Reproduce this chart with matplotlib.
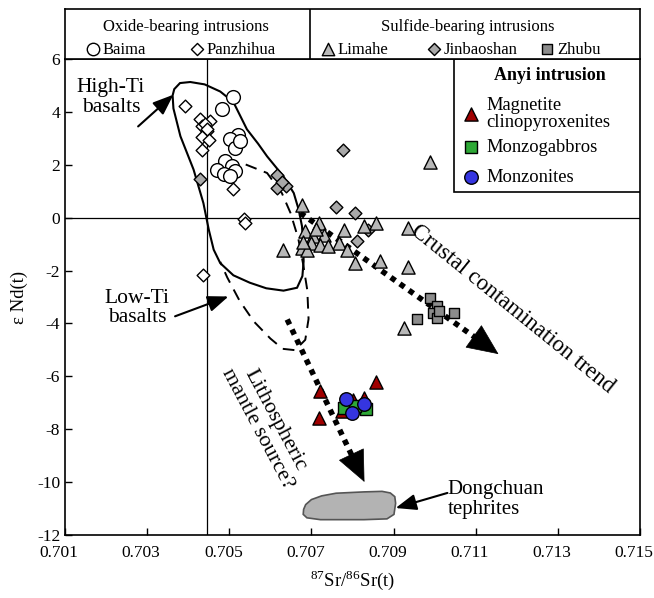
import matplotlib
matplotlib.use('Agg')
import matplotlib.pyplot as plt
from matplotlib.patches import Polygon, Rectangle
from matplotlib.transforms import ScaledTranslation

plt.rcParams['font.family'] = ['Liberation Serif', 'DejaVu Serif']
plt.rcParams['mathtext.fontset'] = 'custom'
plt.rcParams['mathtext.rm'] = 'Liberation Serif'
plt.rcParams['axes.unicode_minus'] = False

# ---- data: (87Sr/86Sr)t, eNd(t) ----
baima_sr = [0.70510, 0.70482, 0.70520, 0.70501, 0.70515, 0.70490, 0.70507,
            0.70470, 0.70488, 0.70515, 0.70502, 0.70525]
baima_nd = [4.57, 4.11, 3.13, 2.98, 2.63, 2.15, 1.97, 1.82, 1.65, 1.75, 1.56, 2.90]

panzhihua_sr = [0.70391, 0.70429, 0.70452, 0.70433, 0.70446, 0.70433, 0.70450,
                0.70433, 0.70510, 0.70535, 0.70539, 0.70436, 0.70440, 0.70445]
panzhihua_nd = [4.24, 3.73, 3.65, 3.45, 3.26, 3.05, 2.95, 2.57, 1.08, -0.05,
                -0.20, -2.15, 3.56, 3.34]

limahe_sr = [0.70677, 0.70718, 0.70685, 0.70730, 0.70705, 0.70779, 0.70856,
             0.70828, 0.70935, 0.70632, 0.70677, 0.70698, 0.70722, 0.70767,
             0.70787, 0.70807, 0.70868, 0.70935, 0.70925, 0.70988, 0.70690,
             0.70712, 0.70740, 0.70680]
limahe_nd = [0.49, -0.20, -0.52, -0.64, -0.71, -0.45, -0.20, -0.32, -0.39,
             -1.21, -1.15, -0.95, -1.02, -0.95, -1.21, -1.71, -1.65, -1.86,
             -4.17, 2.11, -1.23, -0.44, -1.08, -0.93]

jinbaoshan_sr = [0.70429, 0.70615, 0.70639, 0.70616, 0.70628, 0.70777, 0.70759,
                 0.70807, 0.70837, 0.70810]
jinbaoshan_nd = [1.47, 1.60, 1.18, 1.12, 1.33, 2.57, 0.39, 0.18, -0.48, -0.89]

zhubu_sr = [0.70989, 0.71005, 0.70997, 0.71006, 0.71047, 0.70956, 0.71010]
zhubu_nd = [-3.04, -3.35, -3.61, -3.79, -3.61, -3.85, -3.54]

mag_cpx_sr = [0.70722, 0.70718, 0.70856, 0.70828, 0.70800, 0.70775]
mag_cpx_nd = [-6.56, -7.57, -6.22, -6.81, -6.88, -7.32]

monzogabbro_sr = [0.70779, 0.70832, 0.70807]
monzogabbro_nd = [-7.19, -7.25, -7.13]

monzonite_sr = [0.70783, 0.70829, 0.70799]
monzonite_nd = [-6.85, -7.06, -7.38]

# field outlines
high_ti_sr = [0.70366, 0.70380, 0.70405, 0.70440, 0.70478, 0.70510, 0.70543,
              0.70570, 0.70592, 0.70632, 0.70657, 0.70669, 0.70677, 0.70680,
              0.70681, 0.70678, 0.70665, 0.70632, 0.70590, 0.70550, 0.70510,
              0.70478, 0.70462, 0.70450, 0.70437, 0.70413, 0.70381, 0.70364,
              0.70362]
high_ti_nd = [4.86, 5.09, 5.13, 5.04, 4.77, 4.37, 3.34, 2.80, 2.32, 1.56, 0.93,
              0.30, -0.32, -0.98, -1.65, -2.21, -2.65, -2.76, -2.67, -2.46,
              -2.18, -1.72, -1.21, -0.45, 0.55, 1.82, 3.08, 4.13, 4.62]

low_ti_sr = [0.70540, 0.70592, 0.70628, 0.70649, 0.70668, 0.70680, 0.70690,
             0.70693, 0.70685, 0.70660, 0.70630, 0.70600, 0.70560, 0.70525,
             0.70495, 0.70478]
low_ti_nd = [2.01, 1.69, 0.93, 0.18, -0.79, -1.77, -2.75, -3.83, -4.62, -5.01,
             -4.96, -4.57, -3.93, -3.14, -2.26, -1.67]

dongchuan_sr = [0.70681, 0.70686, 0.70700, 0.70725, 0.70760, 0.70828, 0.70872,
                0.70892, 0.70903, 0.70905, 0.70901, 0.70884, 0.70828, 0.70722,
                0.70689, 0.70680]
dongchuan_nd = [-11.03, -10.85, -10.66, -10.52, -10.42, -10.37, -10.35, -10.41,
                -10.55, -10.80, -11.22, -11.39, -11.42, -11.42, -11.35, -11.22]

x_ticks = [0.701, 0.703, 0.705, 0.707, 0.709, 0.711, 0.713, 0.715]
y_ticks = [6, 4, 2, 0, -2, -4, -6, -8, -10, -12]

W, H = 654, 598
AX_TOP, AX_BOT, AX_L, AX_R = 59, 535, 65, 640
fig = plt.figure(figsize=(W / 100, H / 100), dpi=100)
ax = fig.add_axes([AX_L / W, 1 - AX_BOT / H, (AX_R - AX_L) / W, (AX_BOT - AX_TOP) / H])
ax.set_xlim(0.701, 0.715)
ax.set_ylim(-12, 6)
ax.set_xticks(x_ticks)
ax.set_xticklabels(['%.3f' % v for v in x_ticks])
ax.set_yticks(y_ticks)
ax.tick_params(direction='in', length=5, width=1, labelsize=12.5)
ax.tick_params(axis='x', pad=7)
shift = ScaledTranslation(-6 / 100, 0, fig.dpi_scale_trans)
for lab in ax.get_xticklabels():
    lab.set_transform(lab.get_transform() + shift)
for sp in ax.spines.values():
    sp.set_linewidth(1.2)

ax.axhline(0, color='k', lw=0.9, zorder=1)
ax.axvline(0.70446, color='k', lw=0.9, zorder=1)

ax.add_patch(Polygon(list(zip(high_ti_sr, high_ti_nd)), closed=True, fill=False,
                     ec='k', lw=1.5, zorder=2))
ax.plot(low_ti_sr, low_ti_nd, color='k', lw=1.4, ls=(0, (6, 4)), zorder=2)
ax.add_patch(Polygon(list(zip(dongchuan_sr, dongchuan_nd)), closed=True,
                     fc='#b3b3b3', ec='#555555', lw=1.2, zorder=2))

# dotted trend arrows
def dotted_arrow(x0, y0, x1, y1):
    ax.plot([x0, x1 - (x1 - x0) * 0.06], [y0, y1 - (y1 - y0) * 0.06], color='k',
            lw=4, ls=(0, (1, 1)), dash_capstyle='butt', zorder=3)
    ax.annotate('', xy=(x1, y1), xytext=(x1 - (x1 - x0) * 0.1, y1 - (y1 - y0) * 0.1),
                arrowprops=dict(arrowstyle='-|>,head_length=0.85,head_width=0.38',
                                mutation_scale=25, color='k', lw=0.5),
                zorder=3)

dotted_arrow(0.70673, 0.18, 0.71161, -5.22)
dotted_arrow(0.70641, -3.85, 0.70832, -10.09)

# solid label arrows
solid = dict(arrowstyle='-|>,head_length=0.9,head_width=0.35', mutation_scale=14,
             color='k', lw=1.5, shrinkA=0, shrinkB=0)
ax.annotate('', xy=(0.70364, 4.65), xytext=(0.70278, 3.45), arrowprops=solid, zorder=3)
ax.annotate('', xy=(0.70498, -2.98), xytext=(0.70368, -3.73), arrowprops=solid, zorder=3)
ax.annotate('', xy=(0.70905, -10.98), xytext=(0.71031, -10.41), arrowprops=solid, zorder=3)

ax.text(0.70212, 4.54, 'High-Ti\nbasalts', fontsize=15.5, ha='center', va='center',
        linespacing=1.05)
ax.text(0.70276, -3.42, 'Low-Ti\nbasalts', fontsize=15.5, ha='center', va='center',
        linespacing=1.05)
ax.text(0.71032, -10.66, 'Dongchuan\ntephrites', fontsize=15, ha='left', va='center',
        linespacing=1.05)
ax.text(0.71190, -3.47, 'Crustal contamination trend', fontsize=16.5, rotation=-39,
        ha='center', va='center')
ax.text(0.70590, -7.81, 'Lithospheric\nmantle source?', fontsize=16, rotation=-62,
        ha='center', va='center', linespacing=1.0)

# data points
ax.scatter(baima_sr, baima_nd, s=98, marker='o', fc='white', ec='k', lw=1, zorder=4)
ax.scatter(panzhihua_sr, panzhihua_nd, s=42, marker='D', fc='white', ec='k', lw=1, zorder=4)
ax.scatter(jinbaoshan_sr, jinbaoshan_nd, s=42, marker='D', fc='#a8a8a8', ec='k', lw=1, zorder=4)
ax.scatter(limahe_sr, limahe_nd, s=90, marker='^', fc='#b8b8b8', ec='k', lw=1, zorder=4)
ax.scatter(zhubu_sr, zhubu_nd, s=55, marker='s', fc='#8c8c8c', ec='k', lw=1, zorder=4)
ax.scatter(mag_cpx_sr, mag_cpx_nd, s=90, marker='^', fc='#a00000', ec='k', lw=1, zorder=4)
ax.scatter(monzogabbro_sr, monzogabbro_nd, s=72, marker='s', fc='#2ea836', ec='k', lw=1, zorder=4)
ax.scatter(monzonite_sr, monzonite_nd, s=95, marker='o', fc='#3535e0', ec='k', lw=1, zorder=4)

ax.set_xlabel('$^{87}$Sr/$^{86}$Sr(t)', fontsize=13.5, labelpad=5)
ax.set_ylabel('\u03b5 Nd(t)', fontsize=13.5)
ax.yaxis.set_label_coords((28 - AX_L) / (AX_R - AX_L), 0.5)

# right-hand legend box (Anyi intrusion), layout in pixels of the picture
def px(x, y):
    return (x - AX_L) / (AX_R - AX_L), (AX_BOT - y) / (AX_BOT - AX_TOP)

x0, y0 = px(454, 192)
ax.add_patch(Rectangle((x0, y0), 1 - x0, 1 - y0, transform=ax.transAxes,
                       fc='white', ec='k', lw=1.2, zorder=5))
ax.text(*px(550, 76), 'Anyi intrusion', transform=ax.transAxes, fontsize=13,
        fontweight='bold', ha='center', va='center', zorder=6)
legend_rows = [(114, '^', '#a00000', 90, 'Magnetite\nclinopyroxenites'),
               (147, 's', '#2ea836', 72, 'Monzogabbros'),
               (177, 'o', '#3535e0', 95, 'Monzonites')]
for yy, mk, col, sz, lab in legend_rows:
    ax.scatter(*px(471, yy), s=sz, marker=mk, fc=col, ec='k', lw=1,
               transform=ax.transAxes, zorder=6, clip_on=False)
    ax.text(*px(486, yy), lab, transform=ax.transAxes, fontsize=13.3,
            ha='left', va='center', linespacing=1.0, zorder=6)

# top legend strip
lg = fig.add_axes([AX_L / W, 1 - AX_TOP / H, (AX_R - AX_L) / W, (AX_TOP - 9) / H])
lg.set_xlim(AX_L, AX_R)
lg.set_ylim(AX_TOP, 9)
lg.set_xticks([])
lg.set_yticks([])
for sp in lg.spines.values():
    sp.set_linewidth(1.2)
lg.plot([310, 310], [9, AX_TOP], color='k', lw=1.2)
lg.text(186, 27, 'Oxide-bearing intrusions', fontsize=12, ha='center', va='center')
lg.text(468, 27, 'Sulfide-bearing intrusions', fontsize=12, ha='center', va='center')
top_items = [(93, 'o', 'white', 80, 'Baima'),
             (197, 'D', 'white', 38, 'Panzhihua'),
             (328, '^', '#b8b8b8', 80, 'Limahe'),
             (434, 'D', '#a8a8a8', 38, 'Jinbaoshan'),
             (547, 's', '#8c8c8c', 52, 'Zhubu')]
for xx, mk, col, sz, lab in top_items:
    lg.scatter([xx], [49], s=sz, marker=mk, fc=col, ec='k', lw=1, clip_on=False)
    lg.text(xx + 10, 50, lab, fontsize=12, ha='left', va='center')

fig.savefig('out.png', dpi=100)
